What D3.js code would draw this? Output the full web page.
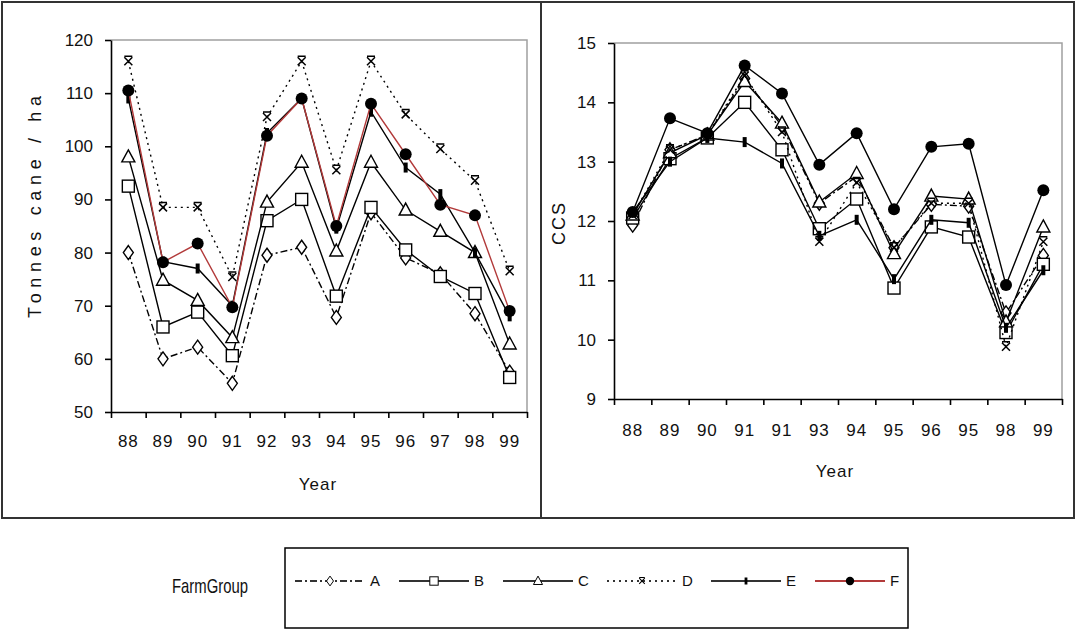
<!DOCTYPE html>
<html>
<head>
<meta charset="utf-8">
<script src="https://cdn.jsdelivr.net/npm/d3@7"></script>
<style>
  body { margin: 0; background: #fff; }
  text { font-family: "Liberation Sans", Arial, sans-serif; fill: #111; }
</style>
</head>
<body>
<svg id="chart"></svg>
<script>
// ---- data ----
const farmGroups = ["A", "B", "C", "D", "E", "F"];
const yieldYears = ["88", "89", "90", "91", "92", "93", "94", "95", "96", "97", "98", "99"];
const ccsYears = ["88", "89", "90", "91", "91", "93", "94", "95", "96", "95", "98", "99"];

const yieldA = [80, 60, 62.2, 55.4, 79.5, 81, 67.8, 87.5, 79, 76, 68.5, 57.5];
const yieldB = [92.5, 66, 68.8, 60.6, 86, 90, 71.8, 88.5, 80.5, 75.5, 72.3, 56.5];
const yieldC = [98, 74.8, 71, 64, 89.5, 97, 80.3, 97, 88, 84, 80, 62.8];
const yieldD = [116, 88.5, 88.5, 75.4, 105.5, 116, 95.5, 116, 106, 99.5, 93.5, 76.5];
const yieldE = [109, 78.3, 77, 70, 102.5, 109, 84.5, 106.5, 96, 91, 80, 68];
const yieldF = [110.5, 78.2, 81.7, 69.7, 102, 109, 85, 108, 98.5, 89, 87, 69];

const ccsA = [11.93, 13.2, 13.45, 14.4, 13.6, 12.3, 12.75, 11.55, 12.28, 12.25, 10.45, 11.42];
const ccsB = [12.05, 13.05, 13.4, 14.0, 13.2, 11.87, 12.37, 10.87, 11.9, 11.73, 10.12, 11.27];
const ccsC = [12.1, 13.15, 13.45, 14.35, 13.65, 12.32, 12.8, 11.45, 12.42, 12.37, 10.3, 11.9];
const ccsD = [12.1, 13.2, 13.45, 14.45, 13.5, 11.65, 12.65, 11.55, 12.3, 12.3, 9.88, 11.65];
const ccsE = [12.15, 13.0, 13.4, 13.33, 12.97, 11.75, 12.02, 11.02, 12.02, 11.97, 10.2, 11.17];
const ccsF = [12.15, 13.73, 13.48, 14.62, 14.15, 12.95, 13.48, 12.2, 13.25, 13.3, 10.92, 12.52];

const yieldTicks = [50, 60, 70, 80, 90, 100, 110, 120];
const ccsTicks = [9, 10, 11, 12, 13, 14, 15];

// ---- styles per group ----
const seriesStyle = {
  A: { dash: "7,3,2,3", marker: "diamond" },
  B: { dash: null, marker: "square" },
  C: { dash: null, marker: "triangle" },
  D: { dash: "2,4", marker: "cross" },
  E: { dash: null, marker: "bar" },
  F: { dash: null, marker: "circle" }
};
const redLine = "#b23a3a";

const svg = d3.select("#chart").attr("width", 1077).attr("height", 634);

// outer frames
svg.append("rect").attr("x", 2).attr("y", 2).attr("width", 539).attr("height", 516)
  .attr("fill", "none").attr("stroke", "#333").attr("stroke-width", 2);
svg.append("rect").attr("x", 541).attr("y", 2).attr("width", 533).attr("height", 516)
  .attr("fill", "none").attr("stroke", "#333").attr("stroke-width", 2);

function drawMarker(g, kind, x, y) {
  if (kind === "circle") {
    g.append("circle").attr("cx", x).attr("cy", y).attr("r", 6).attr("fill", "#000");
  } else if (kind === "square") {
    g.append("rect").attr("x", x - 6).attr("y", y - 6).attr("width", 12).attr("height", 12)
      .attr("fill", "#fff").attr("stroke", "#000").attr("stroke-width", 1.4);
  } else if (kind === "triangle") {
    g.append("path").attr("d", `M${x},${y - 7}L${x + 6.5},${y + 5}L${x - 6.5},${y + 5}Z`)
      .attr("fill", "#fff").attr("stroke", "#000").attr("stroke-width", 1.4);
  } else if (kind === "diamond") {
    g.append("path").attr("d", `M${x},${y - 7}L${x + 5},${y}L${x},${y + 7}L${x - 5},${y}Z`)
      .attr("fill", "#fff").attr("stroke", "#000").attr("stroke-width", 1.4);
  } else if (kind === "cross") {
    g.append("path").attr("d", `M${x - 4},${y - 4}L${x + 4},${y + 4}M${x + 4},${y - 4}L${x - 4},${y + 4}M${x - 4},${y - 5}L${x + 4},${y - 5}`)
      .attr("fill", "none").attr("stroke", "#000").attr("stroke-width", 1.5);
  } else if (kind === "bar") {
    g.append("rect").attr("x", x - 2).attr("y", y - 5).attr("width", 4).attr("height", 10).attr("fill", "#000");
  }
}

function drawPanel(cfg) {
  const x = d3.scaleBand().domain(d3.range(cfg.labels.length)).range([cfg.x0, cfg.x1]);
  const xTicks = d3.scaleLinear().domain([0, cfg.labels.length]).range([cfg.x0, cfg.x1]);
  const y = d3.scaleLinear().domain(cfg.domain).range([cfg.yBot, cfg.yTop]);
  const cx = i => x(i) + x.bandwidth() / 2;

  // plot area border (top and right)
  svg.append("path")
    .attr("d", `M${cfg.x0},${cfg.yTop}H${cfg.x1}V${cfg.yBot}`)
    .attr("fill", "none").attr("stroke", "#a0a0a0").attr("stroke-width", 1.5);

  // y axis
  const yAxisG = svg.append("g")
    .attr("transform", `translate(${cfg.x0},0)`)
    .call(d3.axisLeft(y).tickValues(cfg.ticks).tickFormat(d3.format("d"))
      .tickSize(6).tickSizeOuter(0).tickPadding(12));
  yAxisG.selectAll("text").style("font-size", "17px").style("font-family", "Liberation Sans, Arial, sans-serif");

  // x axis labels (band centers)
  const xLab = svg.append("g")
    .attr("transform", `translate(0,${cfg.yBot})`)
    .call(d3.axisBottom(x).tickSize(0).tickPadding(cfg.labelPad).tickFormat(i => cfg.labels[i]));
  xLab.select(".domain").remove();
  xLab.selectAll("text").style("font-size", "17px").style("font-family", "Liberation Sans, Arial, sans-serif")
    .attr("letter-spacing", "1px");

  // x axis ticks between categories
  svg.append("g")
    .attr("transform", `translate(0,${cfg.yBot})`)
    .call(d3.axisBottom(xTicks).tickValues(d3.range(cfg.labels.length + 1)).tickSize(6).tickSizeOuter(0).tickFormat(""));

  svg.selectAll(".domain, .tick line").attr("stroke", "#000").attr("stroke-width", 1.6);

  // titles
  svg.append("text")
    .attr("transform", `translate(${cfg.titleX},${cfg.titleY}) rotate(-90)`)
    .attr("text-anchor", "middle").attr("dy", "0.35em")
    .style("font-size", "18px")
    .attr("textLength", cfg.titleLen).attr("lengthAdjust", "spacing")
    .text(cfg.title);
  svg.append("text")
    .attr("x", cfg.yearX).attr("y", cfg.yearY).attr("dy", "0.35em")
    .attr("text-anchor", "middle").style("font-size", "17px").attr("letter-spacing", "1px")
    .text("Year");

  // series
  const line = d3.line().x((d, i) => cx(i)).y(d => y(d));
  farmGroups.forEach((key, k) => {
    const st = seriesStyle[key];
    const vals = cfg.series[k];
    const g = svg.append("g");
    g.append("path").datum(vals)
      .attr("d", line)
      .attr("fill", "none")
      .attr("stroke", key === "F" ? cfg.fColor : "#000")
      .attr("stroke-width", 1.4)
      .attr("stroke-dasharray", st.dash);
    vals.forEach((v, i) => drawMarker(g, st.marker, cx(i), y(v)));
  });
}

drawPanel({
  x0: 111, x1: 527, yTop: 40, yBot: 412, domain: [50, 120], ticks: yieldTicks,
  labels: yieldYears, labelPad: 23,
  series: [yieldA, yieldB, yieldC, yieldD, yieldE, yieldF],
  title: "Tonnes cane / ha", titleX: 35, titleY: 207, titleLen: 222,
  yearX: 318, yearY: 484, fColor: redLine
});

drawPanel({
  x0: 614, x1: 1062, yTop: 43, yBot: 399, domain: [9, 15], ticks: ccsTicks,
  labels: ccsYears, labelPad: 25,
  series: [ccsA, ccsB, ccsC, ccsD, ccsE, ccsF],
  title: "C C S", titleX: 559, titleY: 224, titleLen: 42,
  yearX: 835, yearY: 471, fColor: "#000"
});

// ---- legend ----
svg.append("text").attr("x", 172).attr("y", 586).attr("dy", "0.35em")
  .style("font-size", "21px").attr("textLength", 76).attr("lengthAdjust", "spacingAndGlyphs")
  .text("FarmGroup");
svg.append("rect").attr("x", 285).attr("y", 548).attr("width", 623).attr("height", 80)
  .attr("fill", "none").attr("stroke", "#000").attr("stroke-width", 1.5);

const legendX = d3.scalePoint().domain(farmGroups).range([330, 850]);
farmGroups.forEach(key => {
  const st = seriesStyle[key];
  const lx = legendX(key), ly = 581;
  const g = svg.append("g");
  g.append("line").attr("x1", lx - 35).attr("x2", lx + 35).attr("y1", ly).attr("y2", ly)
    .attr("stroke", key === "F" ? redLine : "#333").attr("stroke-width", 2)
    .attr("stroke-dasharray", st.dash);
  const mk = g.append("g").attr("transform", `translate(${lx},${ly}) scale(0.7) translate(${-lx},${-ly})`);
  drawMarker(mk, st.marker, lx, ly);
  g.append("text").attr("x", lx + 40).attr("y", ly).attr("dy", "0.35em")
    .style("font-size", "15px").text(key);
});
</script>
</body>
</html>
